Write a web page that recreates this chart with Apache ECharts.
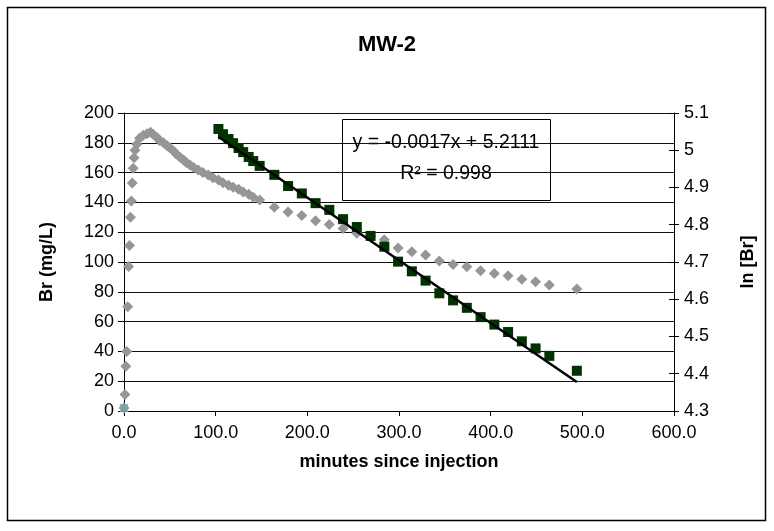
<!DOCTYPE html>
<html>
<head>
<meta charset="utf-8">
<script src="https://cdn.jsdelivr.net/npm/echarts@6/dist/echarts.min.js"></script>
<style>
html,body{margin:0;padding:0;background:#fff;}
#chart{width:774px;height:531px;}
</style>
</head>
<body>
<div id="chart"></div>
<script>
// Br concentration (mg/L) vs minutes since injection (grey diamonds, left axis)
const brTime = [0,1,2,3,4,5,6,7,8,9,10,11,12,14,17,21,25,29,32,36,39,43,47,50,54,57,61,65,68,72,76,81,86,92,97,103,108,114,119,125,130,136,141,148,164,179,194,209,224,239,254,269,284,299,314,329,344,359,374,389,404,419,434,449,464,494];
const brValue = [2,11,30,40,70,97,111,130,141,153,163,170,175,179,183,185,186,187,185.5,183.5,181.4,180,178,176.7,174.5,172.5,170.3,168.5,166.8,165.1,163.4,161.7,160,158.4,156.6,155,153.2,151.5,150.2,148.8,147,145.4,143.4,141.6,136.7,133.5,131.2,127.7,125.2,122.5,119.3,117.5,115,109.4,106.9,104.7,100.7,98.3,96.8,94.2,92.3,90.8,88.4,86.8,84.6,81.9];
// ln[Br] (green squares, right axis)
const lnTime = [103,108,114,119,125,130,136,141,148,164,179,194,209,224,239,254,269,284,299,314,329,344,359,374,389,404,419,434,449,464,494];
const lnValue = [5.057,5.043,5.030,5.019,5.006,4.995,4.982,4.971,4.958,4.934,4.904,4.884,4.858,4.840,4.815,4.794,4.770,4.741,4.701,4.675,4.650,4.616,4.597,4.577,4.552,4.532,4.512,4.487,4.468,4.448,4.408];
// linear trendline end points (right axis)
const fitTime = [103, 494];
const fitValue = [5.036, 4.378];
// background sample (cyan x)
const bgTime = [0];
const bgValue = [2];
const eqText = 'y = -0.0017x + 5.2111';
const r2Text = 'R\u00B2 = 0.998';
const xTicks = {min:0, max:600, step:100};
const yLeftTicks = {min:0, max:200, step:20};
const yRightTicks = {min:4.3, max:5.1, step:0.1};

const zip = (a,b) => a.map((v,i) => [v, b[i]]);
const FONT = 'Liberation Sans, Arial, sans-serif';
const chart = echarts.init(document.getElementById('chart'), null, {renderer:'canvas'});
const xPath = 'path://M0,1.5L1.5,0L5,3.5L8.5,0L10,1.5L6.5,5L10,8.5L8.5,10L5,6.5L1.5,10L0,8.5L3.5,5Z';

chart.setOption({
  animation:false,
  backgroundColor:'#fff',
  title:{text:'MW-2', left:'center', top:29,
    textStyle:{fontFamily:FONT, fontSize:22, fontWeight:'bold', color:'#000'}},
  grid:{left:124, right:100, top:113, bottom:120, containLabel:false},
  xAxis:{type:'value', min:xTicks.min, max:xTicks.max, interval:xTicks.step,
    name:'minutes since injection', nameLocation:'middle', nameGap:42,
    nameTextStyle:{fontFamily:FONT, fontSize:18, fontWeight:'bold', color:'#000'},
    axisLine:{show:true, onZero:false, lineStyle:{color:'#000', width:1}},
    axisTick:{show:true, inside:false, length:5, lineStyle:{color:'#000'}},
    axisLabel:{fontFamily:FONT, fontSize:18, color:'#000', margin:13,
      formatter:v => v.toFixed(1)},
    splitLine:{show:false}},
  yAxis:[
    {type:'value', position:'left', min:yLeftTicks.min, max:yLeftTicks.max, interval:yLeftTicks.step,
      name:'Br (mg/L)', nameLocation:'middle', nameGap:68, nameRotate:90,
      nameTextStyle:{fontFamily:FONT, fontSize:18, fontWeight:'bold', color:'#000'},
      axisLine:{show:true, lineStyle:{color:'#000', width:1}},
      axisTick:{show:true, inside:false, length:6, lineStyle:{color:'#000'}},
      axisLabel:{fontFamily:FONT, fontSize:18, color:'#000', margin:10},
      splitLine:{show:true, lineStyle:{color:'#111', width:1}}},
    {type:'value', position:'right', min:yRightTicks.min, max:yRightTicks.max, interval:yRightTicks.step,
      name:'ln [Br]', nameLocation:'middle', nameGap:65, nameRotate:90,
      nameTextStyle:{fontFamily:FONT, fontSize:18, fontWeight:'bold', color:'#000'},
      axisLine:{show:true, lineStyle:{color:'#000', width:1}},
      axisTick:{show:true, inside:false, length:5, lineStyle:{color:'#000'}},
      axisLabel:{fontFamily:FONT, fontSize:18, color:'#000', margin:10,
        formatter:v => String(+v.toFixed(1))},
      splitLine:{show:false}},
    {type:'value', position:'right', min:yRightTicks.min, max:yRightTicks.max, interval:yRightTicks.step,
      axisLine:{show:false}, axisLabel:{show:false}, splitLine:{show:false},
      axisTick:{show:true, inside:true, length:5, lineStyle:{color:'#000'}}}
  ],
  series:[
    {name:'background', type:'scatter', yAxisIndex:0, data:zip(bgTime,bgValue),
      symbol:xPath, symbolSize:9, itemStyle:{color:'#00e5ff', opacity:1}},
    {name:'Br', type:'scatter', yAxisIndex:0, data:zip(brTime,brValue),
      symbol:'diamond', symbolSize:11, itemStyle:{color:'#969696', opacity:1}},
    {name:'ln Br', type:'scatter', yAxisIndex:1, data:zip(lnTime,lnValue),
      symbol:'rect', symbolSize:10, itemStyle:{color:'#003300', opacity:1}},
    {name:'fit', type:'line', yAxisIndex:1, data:zip(fitTime,fitValue),
      symbol:'none', lineStyle:{color:'#000', width:2.5}, z:5}
  ],
  graphic:[
    {type:'rect', shape:{x:7.5, y:7.5, width:758, height:513}, silent:true,
      style:{fill:'none', stroke:'#000', lineWidth:1.5}, z:-1},
    {type:'group', left:342, top:119, z:10, children:[
      {type:'rect', shape:{x:0.5, y:0.5, width:208, height:81},
        style:{fill:'#fff', stroke:'#000', lineWidth:1}},
      {type:'text', x:104, y:24, style:{text:eqText, fontFamily:FONT, fontSize:19.5,
        fill:'#000', align:'center', verticalAlign:'middle'}},
      {type:'text', x:104, y:55, style:{text:r2Text, fontFamily:FONT, fontSize:19.5,
        fill:'#000', align:'center', verticalAlign:'middle'}}
    ]}
  ]
});
</script>
</body>
</html>
